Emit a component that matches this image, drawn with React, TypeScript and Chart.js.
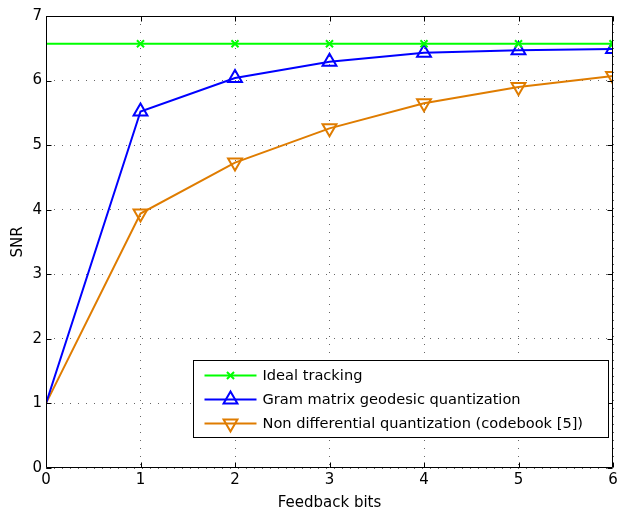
import React, { useEffect, useRef } from 'react';
import { Chart, registerables } from 'chart.js';

Chart.register(...registerables);

const feedbackBits = [0, 1, 2, 3, 4, 5, 6];
const idealTracking = [6.57, 6.57, 6.57, 6.57, 6.57, 6.57, 6.57];
const gramGeodesic = [1.0, 5.52, 6.04, 6.29, 6.43, 6.47, 6.49];
const nonDifferential = [1.0, 3.94, 4.73, 5.26, 5.65, 5.9, 6.07];
const seriesNames = [
  'Ideal tracking',
  'Gram matrix geodesic quantization',
  'Non differential quantization (codebook [5])',
];
const xTickValues = [0, 1, 2, 3, 4, 5, 6];
const yTickValues = [0, 1, 2, 3, 4, 5, 6, 7];
const xAxisTitle = 'Feedback bits';
const yAxisTitle = 'SNR';

const FONT_FAMILY = '"DejaVu Sans", sans-serif';

function drawMarker(ctx: CanvasRenderingContext2D, style: string, x: number, y: number, r: number, rotDeg: number) {
  const rad0 = (rotDeg * Math.PI) / 180;
  ctx.beginPath();
  if (style === 'triangle') {
    for (let k = 0; k < 3; k++) {
      const a = rad0 + (k * 2 * Math.PI) / 3;
      const px = x + Math.sin(a) * r;
      const py = y - Math.cos(a) * r;
      if (k === 0) ctx.moveTo(px, py);
      else ctx.lineTo(px, py);
    }
    ctx.closePath();
  } else {
    const a = rad0 + Math.PI / 4;
    const xo = Math.cos(a) * r;
    const yo = Math.sin(a) * r;
    ctx.moveTo(x - xo, y - yo);
    ctx.lineTo(x + xo, y + yo);
    ctx.moveTo(x - yo, y + xo);
    ctx.lineTo(x + yo, y - xo);
  }
  ctx.stroke();
}

const framePlugin = {
  id: 'matlabFrame',
  afterDatasetsDraw(chart: any) {
    const { ctx, chartArea, scales } = chart;
    const { left, right, top, bottom } = chartArea;
    ctx.save();
    ctx.strokeStyle = '#000';
    ctx.lineWidth = 1;
    ctx.setLineDash([]);
    const L = Math.round(left) + 0.5;
    const R = Math.round(right) - 0.5;
    const T = Math.round(top) + 0.5;
    const B = Math.round(bottom) - 0.5;
    ctx.beginPath();
    ctx.rect(L, T, R - L, B - T);
    ctx.stroke();
    const tl = 5;
    ctx.beginPath();
    xTickValues.forEach((v) => {
      const px = Math.round(scales.x.getPixelForValue(v)) + 0.5;
      ctx.moveTo(px, B);
      ctx.lineTo(px, B - tl);
      ctx.moveTo(px, T);
      ctx.lineTo(px, T + tl);
    });
    yTickValues.forEach((v) => {
      const py = Math.round(scales.y.getPixelForValue(v)) + 0.5;
      ctx.moveTo(L, py);
      ctx.lineTo(L + tl, py);
      ctx.moveTo(R, py);
      ctx.lineTo(R - tl, py);
    });
    ctx.stroke();
    ctx.restore();
  },
};

const legendPlugin = {
  id: 'boxLegend',
  afterDraw(chart: any) {
    const { ctx, chartArea } = chart;
    const x0 = Math.round(chartArea.left) + 147 + 0.5;
    const y0 = Math.round(chartArea.top) + 344 + 0.5;
    const w = 415;
    const h = 77;
    ctx.save();
    ctx.setLineDash([]);
    ctx.fillStyle = '#fff';
    ctx.fillRect(x0, y0, w, h);
    ctx.strokeStyle = '#000';
    ctx.lineWidth = 1;
    ctx.strokeRect(x0, y0, w, h);
    chart.data.datasets.forEach((ds: any, i: number) => {
      const cy = y0 + 15 + i * 24;
      ctx.strokeStyle = ds.borderColor;
      ctx.lineWidth = 2;
      ctx.beginPath();
      ctx.moveTo(x0 + 11, cy);
      ctx.lineTo(x0 + 63, cy);
      ctx.stroke();
      drawMarker(ctx, ds.pointStyle, x0 + 37, cy, ds.legendRadius, ds.pointRotation || 0);
      ctx.fillStyle = '#000';
      ctx.font = `14.6px ${FONT_FAMILY}`;
      ctx.textAlign = 'left';
      ctx.textBaseline = 'middle';
      ctx.fillText(ds.label, x0 + 69, cy + 1);
    });
    ctx.restore();
  },
};

function toPoints(values: number[]) {
  return feedbackBits.map((b, i) => ({ x: b, y: values[i] }));
}

export default function App() {
  const canvasRef = useRef<HTMLCanvasElement | null>(null);

  useEffect(() => {
    if (!canvasRef.current) return;
    const tickFont = { family: FONT_FAMILY, size: 15 };
    const titleFont = { family: FONT_FAMILY, size: 15 };
    const gridCommon = {
      color: 'rgba(0,0,0,0.6)',
      lineWidth: 1,
      drawTicks: false,
      borderDash: [1, 7],
    };
    const chart = new Chart(canvasRef.current, {
      type: 'line',
      data: {
        datasets: [
          {
            label: seriesNames[0],
            data: toPoints(idealTracking),
            borderColor: '#00ff00',
            backgroundColor: '#00ff00',
            borderWidth: 2,
            pointStyle: 'crossRot',
            pointRadius: (c: any) => (c.dataIndex === 0 ? 0 : 5),
            pointBorderWidth: 2,
            pointBorderColor: '#00ff00',
            pointBackgroundColor: 'transparent',
            tension: 0,
            legendRadius: 5,
          } as any,
          {
            label: seriesNames[1],
            data: toPoints(gramGeodesic),
            borderColor: '#0000ff',
            backgroundColor: '#0000ff',
            borderWidth: 2,
            pointStyle: 'triangle',
            pointRadius: (c: any) => (c.dataIndex === 0 ? 0 : 8),
            pointBorderWidth: 2,
            pointBorderColor: '#0000ff',
            pointBackgroundColor: 'transparent',
            tension: 0,
            legendRadius: 8,
          } as any,
          {
            label: seriesNames[2],
            data: toPoints(nonDifferential),
            borderColor: '#df7c00',
            backgroundColor: '#df7c00',
            borderWidth: 2,
            pointStyle: 'triangle',
            pointRotation: 180,
            pointRadius: (c: any) => (c.dataIndex === 0 ? 0 : 8),
            pointBorderWidth: 2,
            pointBorderColor: '#df7c00',
            pointBackgroundColor: 'transparent',
            tension: 0,
            legendRadius: 8,
          } as any,
        ],
      },
      options: {
        animation: false,
        responsive: false,
        events: [],
        layout: { padding: { left: 0, top: 16, right: 5, bottom: 0 } },
        plugins: {
          legend: { display: false },
          tooltip: { enabled: false },
        },
        scales: {
          x: {
            type: 'linear',
            min: 0,
            max: 6,
            afterBuildTicks: (s: any) => {
              s.ticks = xTickValues.map((v) => ({ value: v }));
            },
            ticks: { font: tickFont, color: '#000', padding: 3, maxRotation: 0, autoSkip: false },
            grid: gridCommon as any,
            border: { display: false, dash: [1, 7] } as any,
            title: {
              display: true,
              text: xAxisTitle,
              font: titleFont,
              color: '#000',
              padding: { top: 0, bottom: -1 },
            },
            afterFit: (s: any) => {
              s.height = 43;
            },
          },
          y: {
            type: 'linear',
            min: 0,
            max: 7,
            afterBuildTicks: (s: any) => {
              s.ticks = yTickValues.map((v) => ({ value: v }));
            },
            ticks: { font: tickFont, color: '#000', padding: 4, autoSkip: false },
            grid: gridCommon as any,
            border: { display: false, dash: [1, 7] } as any,
            title: {
              display: true,
              text: yAxisTitle,
              font: titleFont,
              color: '#000',
              padding: { top: 9, bottom: 0 },
            },
            afterFit: (s: any) => {
              s.width = 46;
            },
          },
        },
      } as any,
      plugins: [framePlugin, legendPlugin],
    });
    return () => chart.destroy();
  }, []);

  return (
    <div style={{ position: 'fixed', left: 0, top: 0, width: 623, height: 511, background: '#fff' }}>
      <canvas ref={canvasRef} width={623} height={511} style={{ display: 'block' }} />
    </div>
  );
}
